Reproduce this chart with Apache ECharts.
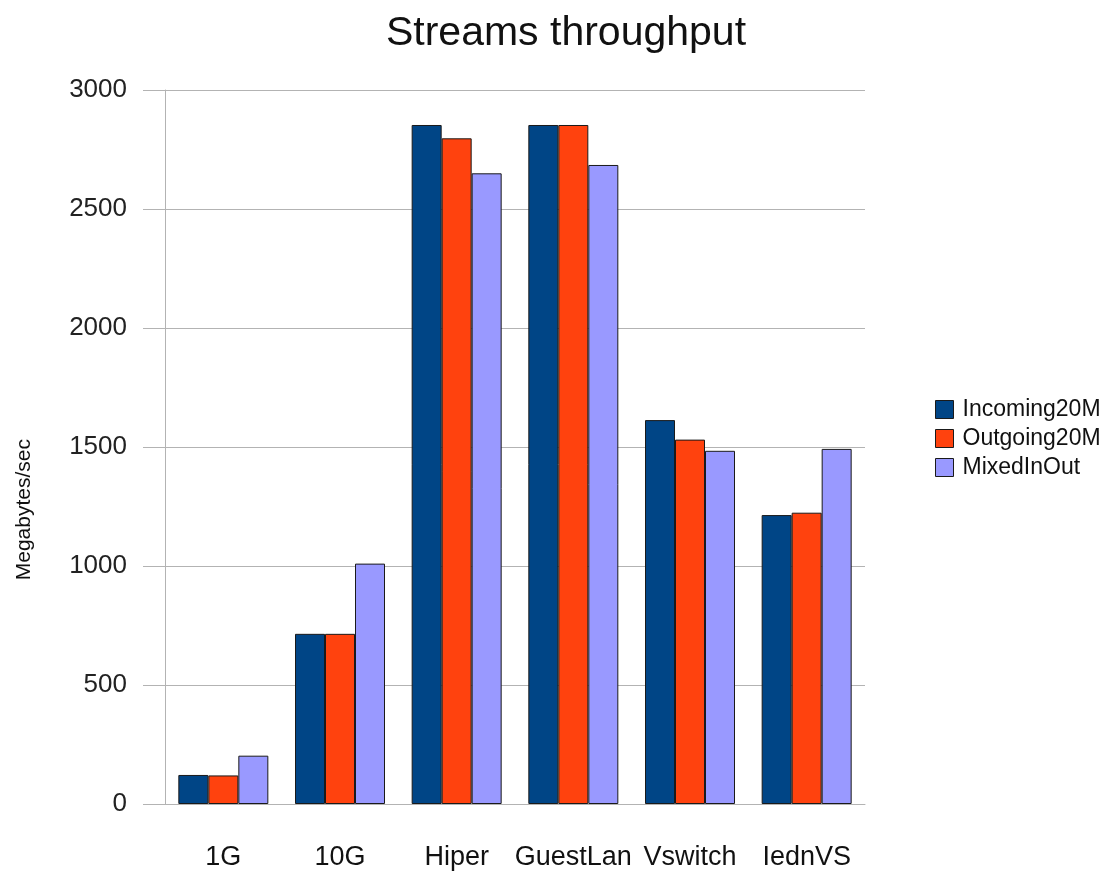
<!DOCTYPE html>
<html>
<head>
<meta charset="utf-8">
<script src="https://cdn.jsdelivr.net/npm/echarts@6/dist/echarts.min.js"></script>
<style>
  html, body { margin: 0; padding: 0; background: #fff; }
  #chart { width: 1103px; height: 874px; }
</style>
</head>
<body>
<div id="chart"></div>
<script>
var categories = ['1G', '10G', 'Hiper', 'GuestLan', 'Vswitch', 'IednVS'];
var incoming = [122, 715, 2853, 2853, 1613, 1214];
var outgoing = [120, 715, 2797, 2853, 1531, 1224];
var mixed = [203, 1010, 2650, 2685, 1484, 1492];
var yTicks = [0, 500, 1000, 1500, 2000, 2500, 3000];

var font = '"Liberation Sans", Arial, sans-serif';
var chart = echarts.init(document.getElementById('chart'));

function bar(name, data, color) {
    return {
        name: name,
        type: 'bar',
        data: data,
        barWidth: 30,
        barGap: '0%',
        itemStyle: {color: color, borderColor: '#1a1a1a', borderWidth: 1},
        emphasis: {disabled: true}
    };
}

chart.setOption({
    animation: false,
    title: {
        text: 'Streams throughput',
        left: 561,
        top: 8,
        textAlign: 'center',
        textStyle: {fontFamily: font, fontSize: 41, fontWeight: 'normal', color: '#111'}
    },
    grid: {left: 165, right: 238, top: 90, bottom: 70},
    legend: {
        orient: 'vertical',
        left: 930,
        top: 393,
        itemWidth: 18,
        itemHeight: 18,
        itemGap: 6,
        icon: 'rect',
        itemStyle: {borderColor: '#1a1a1a', borderWidth: 1},
        textStyle: {fontFamily: font, fontSize: 23, color: '#111', padding: [0, 0, 0, 4]},
        data: ['Incoming20M', 'Outgoing20M', 'MixedInOut']
    },
    xAxis: {
        type: 'category',
        data: categories,
        axisLine: {lineStyle: {color: '#b3b3b3'}},
        axisTick: {length: 18, lineStyle: {color: '#b3b3b3'}},
        axisLabel: {interval: 0, fontFamily: font, fontSize: 27, color: '#111', margin: 40}
    },
    yAxis: {
        type: 'value',
        min: yTicks[0],
        max: yTicks[yTicks.length - 1],
        interval: yTicks[1] - yTicks[0],
        axisLine: {show: true, lineStyle: {color: '#b3b3b3'}},
        axisTick: {show: true, inside: false, length: 22, lineStyle: {color: '#b3b3b3'}},
        splitLine: {lineStyle: {color: '#b3b3b3'}},
        axisLabel: {
            fontFamily: font, fontSize: 26, color: '#222', margin: 38,
            formatter: function (v) { return String(v); }
        }
    },
    graphic: [{
        type: 'text',
        left: 14,
        top: 439,
        rotation: Math.PI / 2,
        style: {text: 'Megabytes/sec', fontFamily: font, fontSize: 21, fill: '#111'}
    }],
    series: [
        bar('Incoming20M', incoming, '#004586'),
        bar('Outgoing20M', outgoing, '#ff420e'),
        bar('MixedInOut', mixed, '#9999ff')
    ]
});
</script>
</body>
</html>
